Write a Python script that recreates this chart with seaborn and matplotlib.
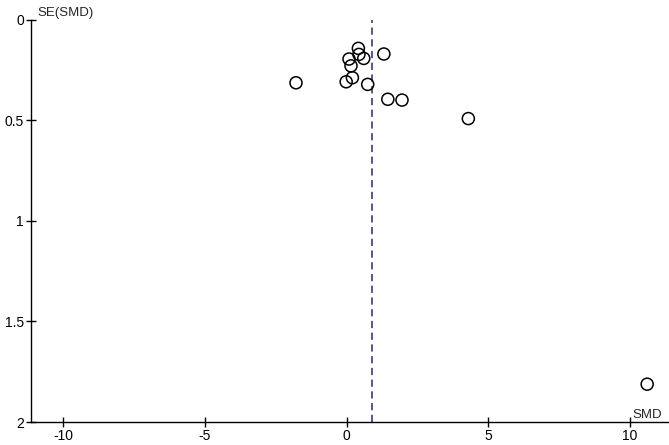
import matplotlib
matplotlib.use("Agg")
import matplotlib.pyplot as plt
import seaborn as sns
import pandas as pd

smd = [0.41, 0.43, 0.60, 0.08, 0.15, 1.31, -0.02, 0.20, 0.74, -1.79, 1.45, 1.95, 4.29, 10.6]
se_smd = [0.143, 0.173, 0.193, 0.196, 0.23, 0.171, 0.309, 0.289, 0.322, 0.314, 0.396, 0.40, 0.492, 1.812]
pooled = 0.88
x_ticks = [-10, -5, 0, 5, 10]
y_ticks = [0, 0.5, 1, 1.5, 2]
y_tick_labels = ["0", "0.5", "1", "1.5", "2"]

df = pd.DataFrame({"SMD": smd, "SE": se_smd})

sns.set_style("white")
plt.rcParams['font.family'] = ['Liberation Sans', 'DejaVu Sans']

fig = plt.figure(figsize=(6.69, 4.45), dpi=100)
ax = fig.add_axes([30.7 / 669, 1 - 422 / 445, 1 - 30.7 / 669, (422 - 19.6) / 445])

sns.scatterplot(data=df, x="SMD", y="SE", ax=ax, marker="o", s=75,
                facecolor="none", edgecolor="black", linewidth=1.1, zorder=3)
ax.axvline(pooled, color="#4b4b7d", linestyle=(0, (4, 2.5)), linewidth=1.3, zorder=2)

ax.set_xlim(-11.15, 11.37)
ax.set_ylim(2, 0)
ax.set_xticks(x_ticks)
ax.set_xticklabels([str(t) for t in x_ticks])
ax.set_yticks(y_ticks)
ax.set_yticklabels(y_tick_labels)
ax.set_xlabel("")
ax.set_ylabel("")

for side in ["top", "right"]:
    ax.spines[side].set_visible(False)
for side in ["left", "bottom"]:
    ax.spines[side].set_color("black")
    ax.spines[side].set_linewidth(1.0)
    ax.spines[side].set_clip_on(False)

ax.tick_params(axis="both", direction="inout", length=7.5, width=1.0, colors="black",
               labelsize=10, pad=1.5, left=True, bottom=True)
ax.tick_params(axis="y", pad=1.0)

fig.text(37 / 669, 1 - 16 / 445, "SE(SMD)", fontsize=9.5, ha="left", va="baseline")
fig.text(632 / 669, 1 - 418 / 445, "SMD", fontsize=9.5, ha="left", va="baseline")

fig.savefig("out.png", dpi=100)
